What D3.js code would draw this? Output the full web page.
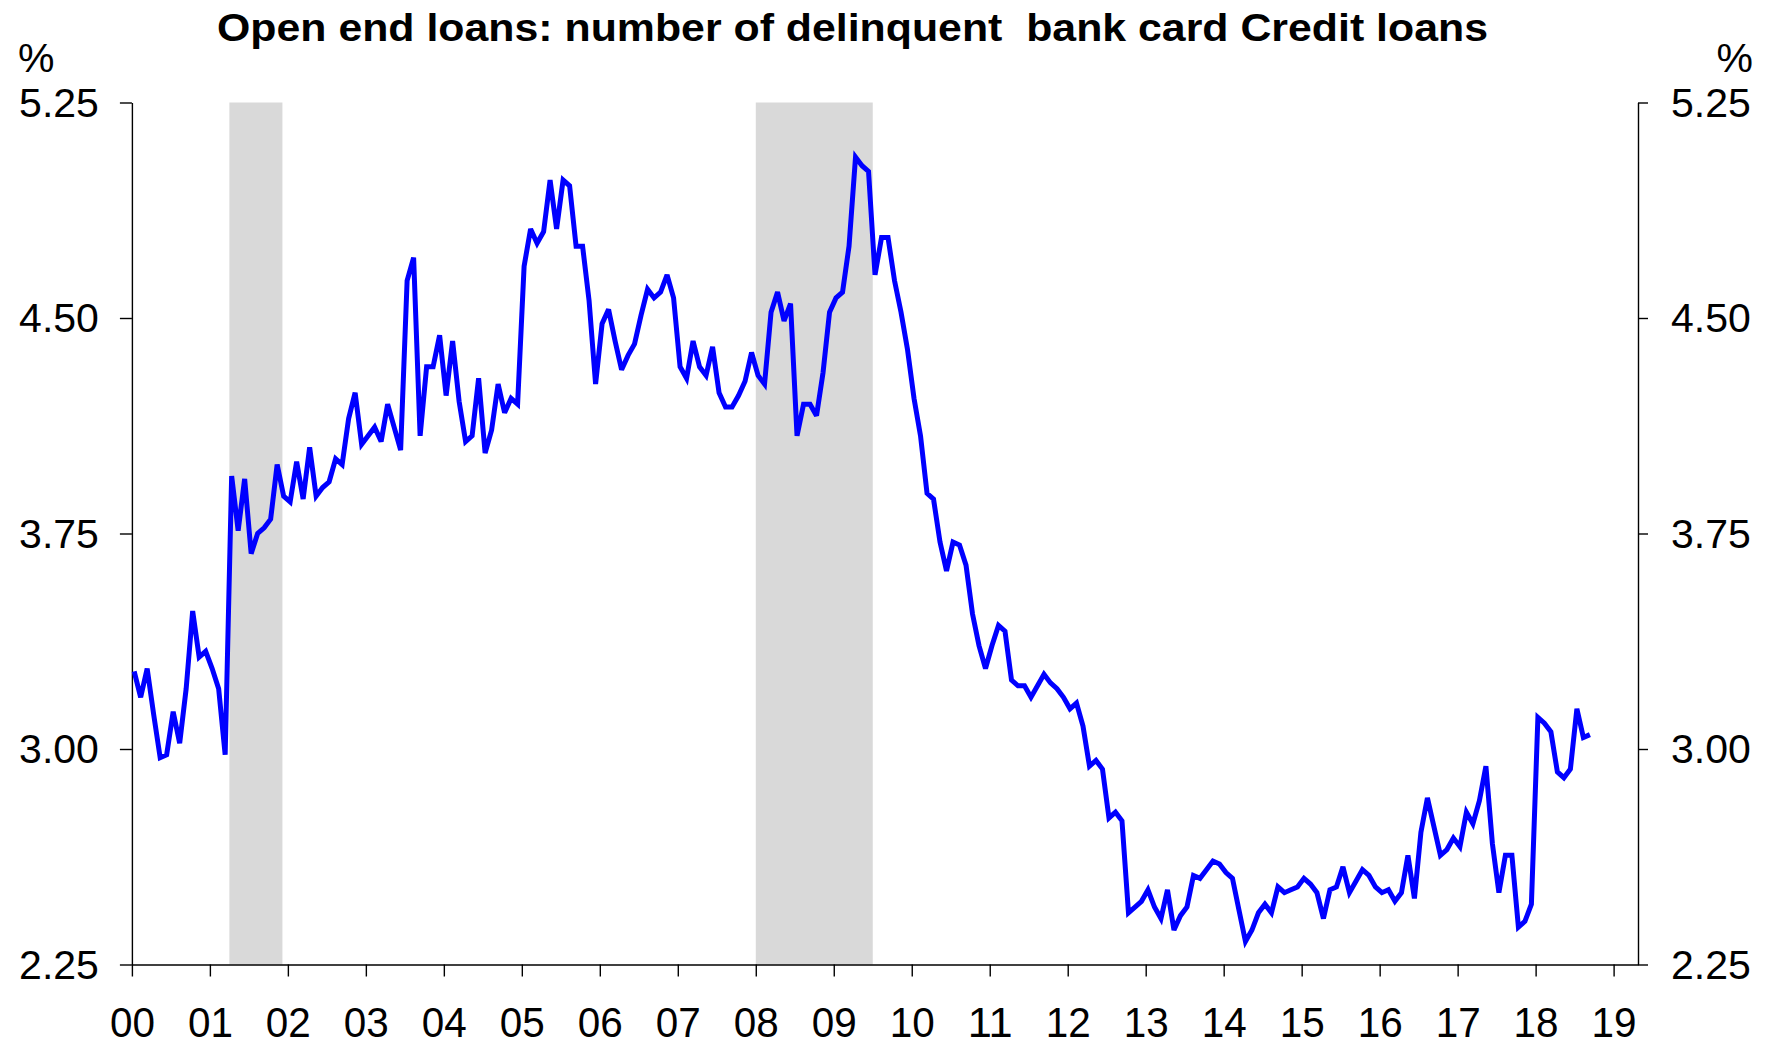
<!DOCTYPE html>
<html>
<head>
<meta charset="utf-8">
<script src="https://cdn.jsdelivr.net/npm/d3@7/dist/d3.min.js"></script>
<style>
  html, body { margin: 0; padding: 0; background: #ffffff; }
  svg { display: block; }
  text { font-family: "Liberation Sans", Arial, sans-serif; fill: #000; }
</style>
</head>
<body>
<svg id="chart" width="1767" height="1046"></svg>
<script>
// ---- data ----
const title = "Open end loans: number of delinquent  bank card Credit loans";
const unitLabel = "%";
const startYear = 2000;          // first observation: Jan 2000, monthly
const yearTicks = d3.range(2000, 2020);
const yearLabels = ["00","01","02","03","04","05","06","07","08","09","10","11","12","13","14","15","16","17","18","19"];
const yTicks = [2.25, 3.00, 3.75, 4.50, 5.25];
const recessions = [[2001.25, 2001.93], [2008.0, 2009.5]];
const values = [
  3.27, 3.18, 3.28, 3.12, 2.97, 2.98, 3.13, 3.02, 3.21, 3.48, 3.32, 3.34,
  3.28, 3.21, 2.98, 3.95, 3.76, 3.94, 3.68, 3.75, 3.77, 3.80, 3.99, 3.88,
  3.86, 4.00, 3.87, 4.05, 3.88, 3.91, 3.93, 4.01, 3.99, 4.15, 4.24, 4.06,
  4.09, 4.12, 4.07, 4.20, 4.12, 4.04, 4.63, 4.71, 4.09, 4.33, 4.33, 4.44,
  4.23, 4.42, 4.21, 4.07, 4.09, 4.29, 4.03, 4.11, 4.27, 4.17, 4.22, 4.20,
  4.68, 4.81, 4.76, 4.80, 4.98, 4.81, 4.98, 4.96, 4.75, 4.75, 4.56, 4.27,
  4.48, 4.53, 4.42, 4.32, 4.37, 4.41, 4.51, 4.60, 4.57, 4.59, 4.65, 4.57,
  4.33, 4.29, 4.42, 4.33, 4.30, 4.40, 4.24, 4.19, 4.19, 4.23, 4.28, 4.38,
  4.30, 4.27, 4.52, 4.59, 4.49, 4.55, 4.09, 4.20, 4.20, 4.16, 4.31, 4.52,
  4.57, 4.59, 4.75, 5.06, 5.03, 5.01, 4.65, 4.78, 4.78, 4.63, 4.52, 4.39,
  4.22, 4.09, 3.89, 3.87, 3.72, 3.62, 3.72, 3.71, 3.64, 3.47, 3.36, 3.28,
  3.36, 3.43, 3.41, 3.24, 3.22, 3.22, 3.18, 3.22, 3.26, 3.23, 3.21, 3.18,
  3.14, 3.16, 3.08, 2.94, 2.96, 2.93, 2.76, 2.78, 2.75, 2.43, 2.45, 2.47,
  2.51, 2.45, 2.41, 2.51, 2.37, 2.42, 2.45, 2.56, 2.55, 2.58, 2.61, 2.60,
  2.57, 2.55, 2.44, 2.33, 2.37, 2.43, 2.46, 2.43, 2.52, 2.50, 2.51, 2.52,
  2.55, 2.53, 2.50, 2.41, 2.51, 2.52, 2.59, 2.50, 2.54, 2.58, 2.56, 2.52,
  2.50, 2.51, 2.47, 2.50, 2.63, 2.48, 2.71, 2.83, 2.73, 2.63, 2.65, 2.69,
  2.66, 2.78, 2.74, 2.82, 2.94, 2.67, 2.50, 2.63, 2.63, 2.38, 2.40, 2.46,
  3.11, 3.09, 3.06, 2.92, 2.90, 2.93, 3.14, 3.04, 3.05
];

// ---- layout ----
const W = 1767, H = 1046;
const plotL = 131.9, plotR = 1638, plotT = 102.5, plotB = 964.5;

const svg = d3.select("#chart");
svg.append("rect").attr("width", W).attr("height", H).attr("fill", "#fff");

const x = d3.scaleLinear().domain([2000, 2019.3128]).range([plotL, plotR]);
const y = d3.scaleLinear().domain([2.25, 5.25]).range([plotB, plotT]);

// recession shading
svg.append("g").selectAll("rect").data(recessions).join("rect")
  .attr("x", d => x(d[0]))
  .attr("width", d => x(d[1]) - x(d[0]))
  .attr("y", y(5.25))
  .attr("height", y(2.25) - y(5.25))
  .attr("fill", "#D9D9D9");

// axes
const axisStyle = g => {
  g.selectAll(".domain").attr("stroke", "#000").attr("stroke-width", 1.4);
  g.selectAll(".tick line").attr("stroke", "#000").attr("stroke-width", 1.4);
};

const yLeft = svg.append("g")
  .attr("transform", `translate(${plotL},0)`)
  .call(d3.axisLeft(y).tickValues(yTicks).tickFormat(d3.format(".2f"))
        .tickSize(12).tickSizeOuter(0).tickPadding(21))
  .call(axisStyle);
yLeft.selectAll("text").attr("font-size", 41).attr("dy", "0.33em")
  .style("font-family", '"Liberation Sans", Arial, sans-serif');

const yRight = svg.append("g")
  .attr("transform", `translate(${plotR},0)`)
  .call(d3.axisRight(y).tickValues(yTicks).tickFormat(d3.format(".2f"))
        .tickSize(10).tickPadding(23).tickSizeOuter(0))
  .call(axisStyle);
yRight.selectAll("text").attr("font-size", 41).attr("dy", "0.33em")
  .style("font-family", '"Liberation Sans", Arial, sans-serif');

const xAxis = svg.append("g")
  .attr("transform", `translate(0,${plotB})`)
  .call(d3.axisBottom(x).tickValues(yearTicks)
        .tickFormat((d, i) => yearLabels[i])
        .tickSize(12).tickSizeOuter(0).tickPadding(30))
  .call(axisStyle);
xAxis.selectAll("text").attr("font-size", 43)
  .style("font-family", '"Liberation Sans", Arial, sans-serif')
  .attr("textLength", 45).attr("lengthAdjust", "spacingAndGlyphs");

// line
const line = d3.line()
  .x((d, i) => x(startYear + (i + 0.35) / 12))
  .y(d => y(d));
svg.append("path").datum(values)
  .attr("d", line)
  .attr("fill", "none")
  .attr("stroke", "#0000FF")
  .attr("stroke-width", 5)
  .attr("stroke-linejoin", "miter")
  .attr("stroke-miterlimit", 3);

// title and unit labels
svg.append("text")
  .attr("x", 217).attr("y", 41)
  .attr("font-size", 38).attr("font-weight", "bold")
  .attr("textLength", 1271).attr("lengthAdjust", "spacingAndGlyphs")
  .style("white-space", "pre")
  .text(title);

svg.append("text").attr("x", 18).attr("y", 72).attr("font-size", 41).text(unitLabel);
svg.append("text").attr("x", 1753).attr("y", 72).attr("font-size", 41)
  .attr("text-anchor", "end").text(unitLabel);
</script>
</body>
</html>
